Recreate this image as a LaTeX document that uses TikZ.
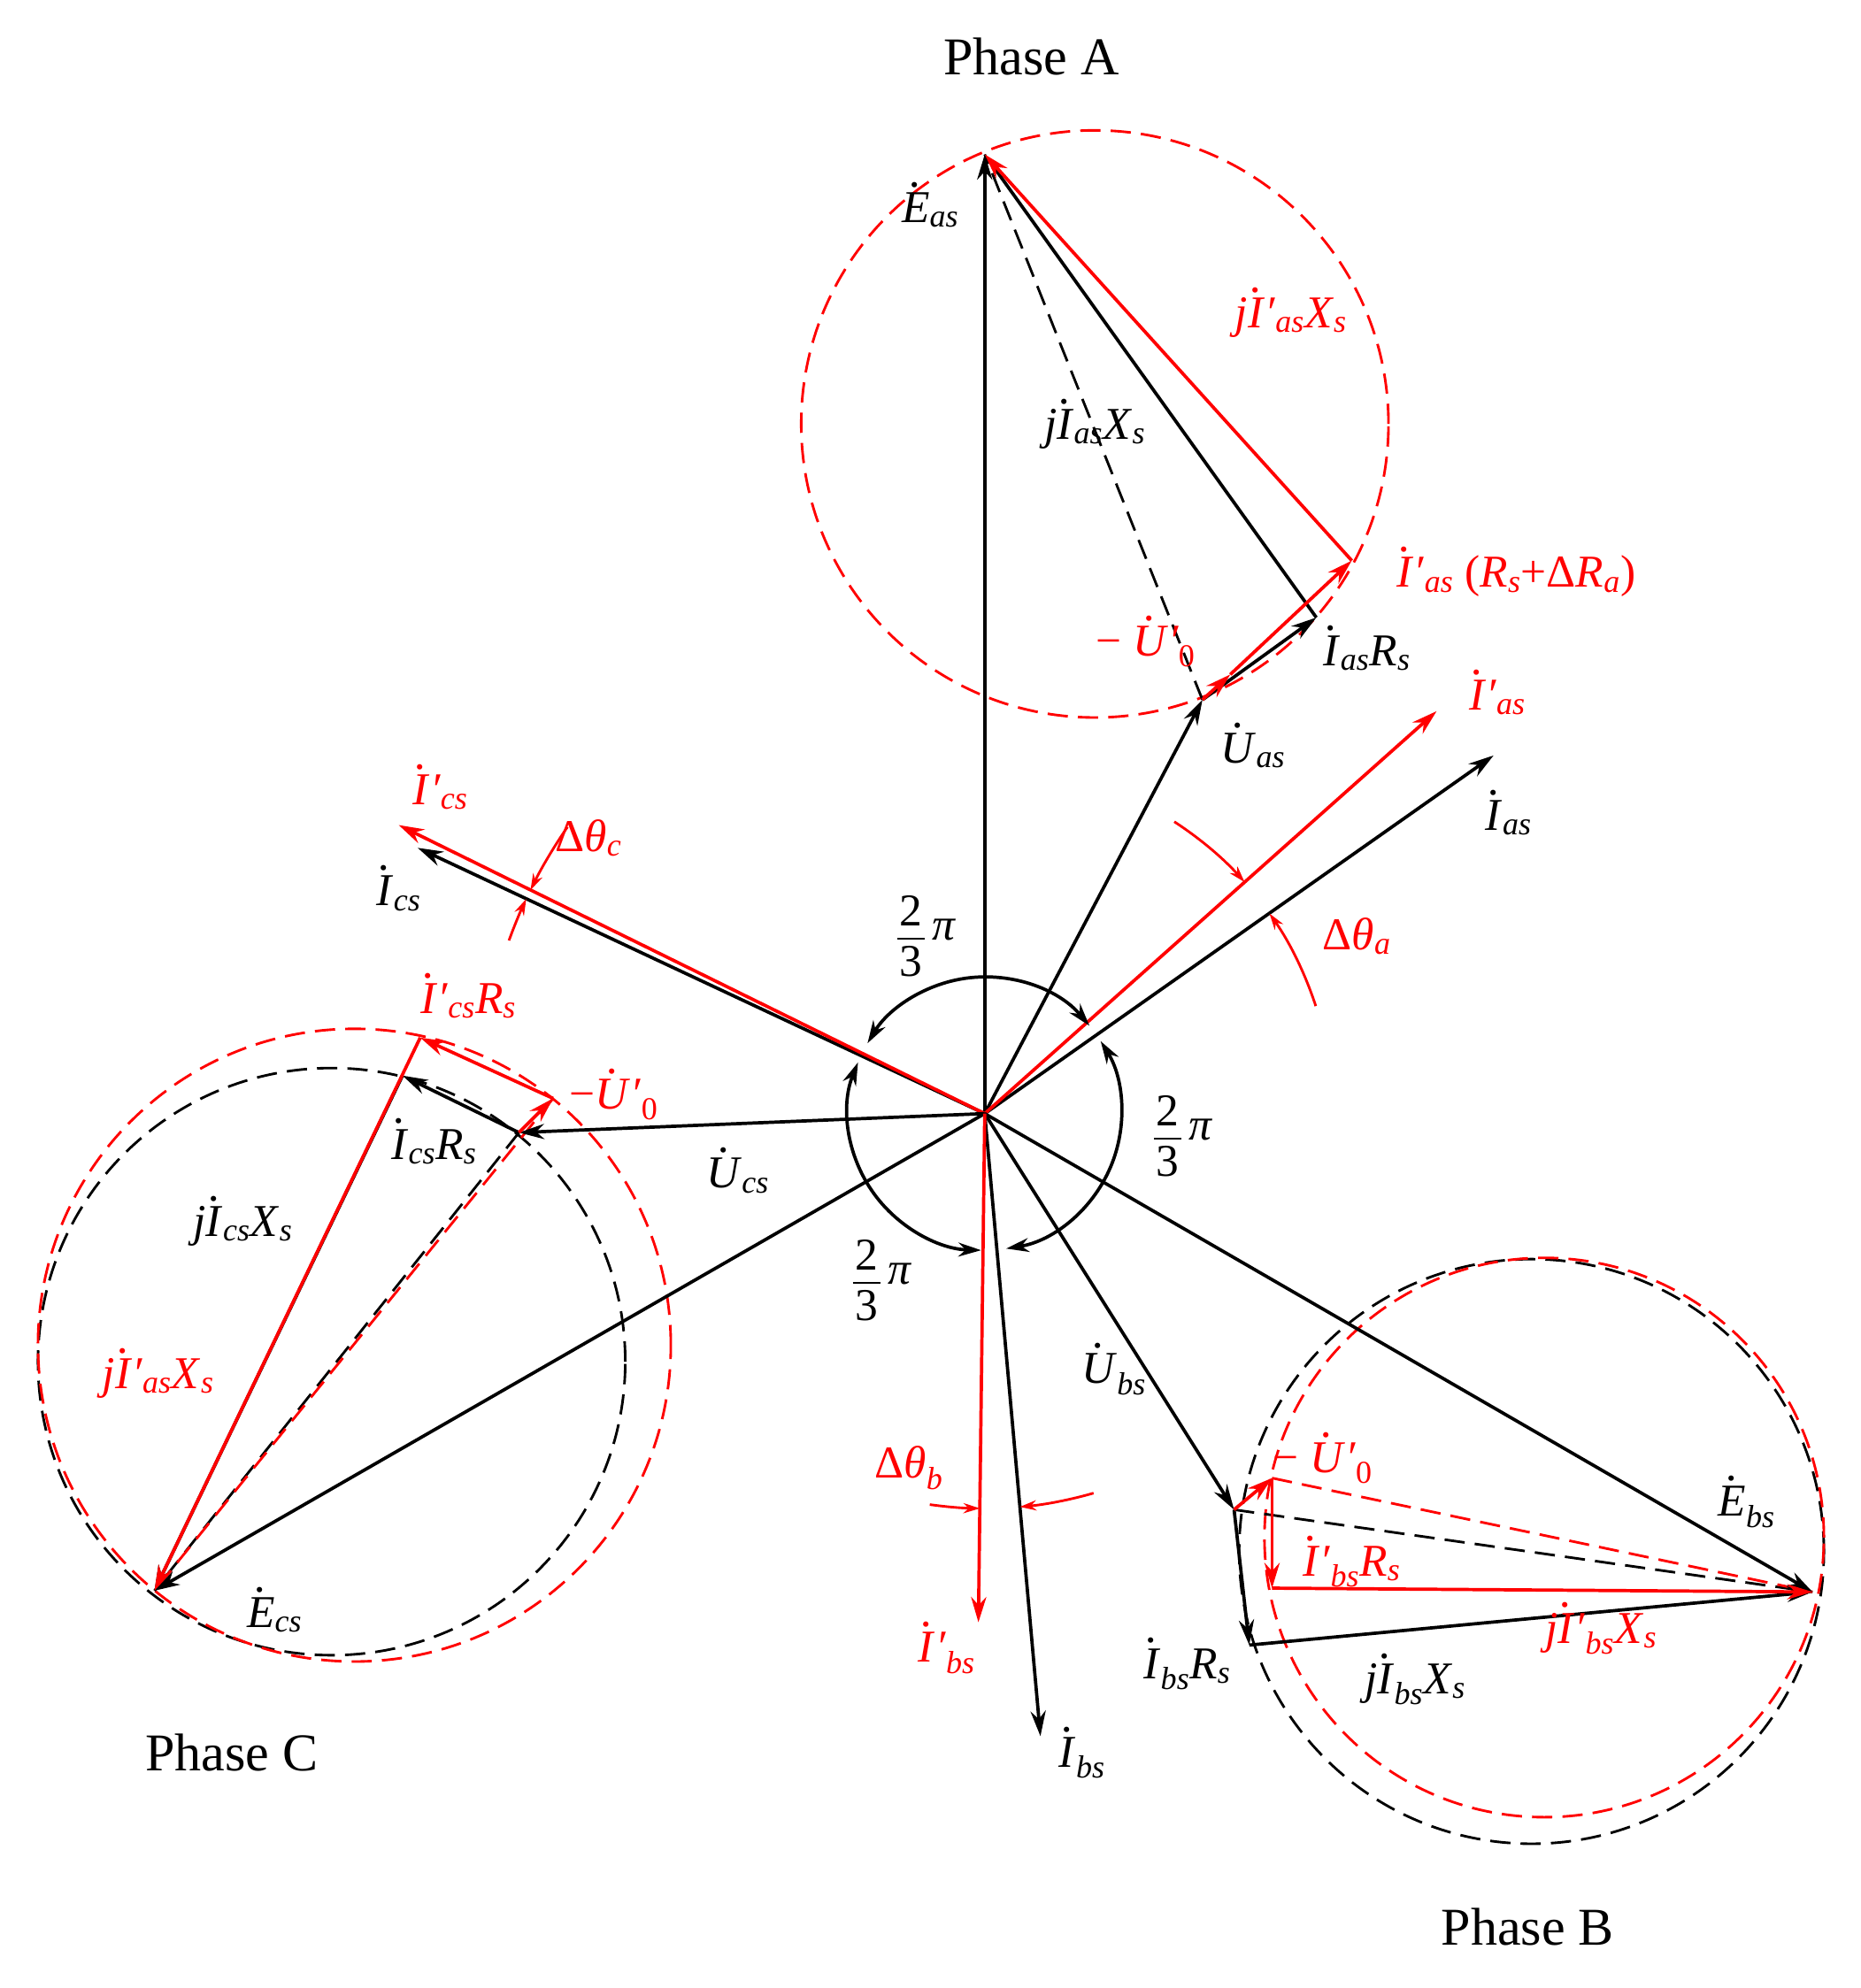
\documentclass[tikz,border=0pt]{standalone}
\usepackage{fontspec}
\setmainfont{Liberation Serif}
\usetikzlibrary{arrows.meta,calc}
\newcommand\ph[1]{{\setbox0\hbox{\textit{#1}}\rlap{\hbox to\wd0{\hss\raisebox{0.78em}{\textit{.}}\hss}}\box0}}
\newcommand\sbs[1]{\textsubscript{\textit{#1}}}
\newcommand\pr{\textit{′}}
\newcommand\twothirds{\raisebox{-0.45\totalheight}{\shortstack{2\\[6pt]\rule{0.6em}{1.8pt}\\[2pt]3}}\,\textit{π}}
\begin{document}
\begin{tikzpicture}[x=1pt,y=1pt,
 ln/.style={line width=2.6pt},
 ar/.style={ln,-{Stealth[length=20pt,width=12pt]}},
 blk/.style={black},
 rd/.style={red},
 dsh/.style={line width=2pt,dash pattern=on 16pt off 8pt},
 lab/.style={font=\fontsize{36}{40}\selectfont,inner sep=0pt},
 frac/.style={font=\fontsize{36}{38}\selectfont,inner sep=0pt}]
\useasboundingbox (0,0) rectangle (1470,-1571);
% key points
\coordinate (O) at (778,-880);
\coordinate (Eas) at (778,-122);
\coordinate (Uas) at (950,-553);
\coordinate (Ias) at (1180,-597);
\coordinate (Ipas) at (1135,-562);
\coordinate (IasR) at (1040,-488);
\coordinate (IpasR) at (1068,-443);
\coordinate (Uas0) at (972,-533);
\coordinate (Ics) at (330,-670);
\coordinate (Ipcs) at (315,-652);
\coordinate (Ucs) at (410,-895);
\coordinate (Ecs) at (122,-1257);
\coordinate (IcsR) at (318,-850);
\coordinate (Ucs0) at (437,-868);
\coordinate (IpcsR) at (332,-820);
\coordinate (Ubs) at (975,-1193);
\coordinate (Ebs) at (1432,-1258);
\coordinate (Ibs) at (822,-1372);
\coordinate (Ipbs) at (773,-1282);
\coordinate (IbsR) at (987,-1300);
\coordinate (Ubs0) at (1005,-1168);
\coordinate (IpbsR) at (1005,-1255);
% circles
\draw[rd,dsh] (865,-335) circle (232);
\draw[blk,dsh] (262,-1076) circle (232);
\draw[rd,dsh] (280,-1063) circle (250);
\draw[blk,dsh] (1210,-1226) circle (231);
\draw[rd,dsh] (1220,-1215) circle (221);
% dashed chords
\draw[blk,dsh] (Uas) -- (Eas);
\draw[blk,dsh] (Ucs) -- (Ecs);
\draw[rd,dsh] (Ucs0) -- (Ecs);
\draw[blk,dsh] (Ubs) -- (Ebs);
\draw[rd,dsh] (Ubs0) -- (Ebs);
% main phasors
\draw[ar] (O) -- (Eas);
\draw[ar] (O) -- (Uas);
\draw[ar] (O) -- (Ias);
\draw[ar,rd] (O) -- (Ipas);
\draw[ar] (O) -- (Ics);
\draw[ar,rd] (O) -- (Ipcs);
\draw[ar] (O) -- (Ucs);
\draw[ar] (O) -- (Ecs);
\draw[ar] (O) -- (Ubs);
\draw[ar] (O) -- (Ebs);
\draw[ar] (O) -- (Ibs);
\draw[ar,rd] (O) -- (Ipbs);
% phase A polygon
\draw[ar] (Uas) -- (IasR);
\draw[ln] (IasR) -- ($(Eas)!0.01!(IasR)$);
\draw[ar,rd] (Uas) -- (Uas0);
\draw[ar,rd] (Uas0) -- (IpasR);
\draw[ar,rd] (IpasR) -- (Eas);
% phase C polygon
\draw[ar] (Ucs) -- (IcsR);
\draw[ar] (IcsR) -- (Ecs);
\draw[ar,rd] (Ucs) -- (Ucs0);
\draw[ar,rd] (Ucs0) -- (IpcsR);
\draw[ar,rd] (IpcsR) -- (Ecs);
% phase B polygon
\draw[ar] (Ubs) -- (IbsR);
\draw[ar] (IbsR) -- (Ebs);
\draw[ar,rd] (Ubs) -- (Ubs0);
\draw[ar,rd] (Ubs0) -- (IpbsR);
\draw[ar,rd] (IpbsR) -- (Ebs);
% 2/3 pi arcs
\draw[ln,{Stealth[length=18pt,width=11pt]}-{Stealth[length=18pt,width=11pt]}] ($(O)+(40:108)$) arc (40:149:108);
\draw[ln,{Stealth[length=18pt,width=11pt]}-{Stealth[length=18pt,width=11pt]}] ($(O)+(-81:108)$) arc (-81:32:108);
\draw[ln,{Stealth[length=18pt,width=11pt]}-{Stealth[length=18pt,width=11pt]}] ($(O)+(158:108)$) arc (158:268.5:108);
% delta theta arcs
\tikzset{da/.style={rd,line width=2pt,-{Stealth[length=13pt,width=8pt]}}}
\draw[da] ($(O)+(57:275)$) arc (57:41.7:275);
\draw[da] ($(O)+(18:275)$) arc (18:35.1:275);
\draw[da] ($(O)+(145.5:400)$) arc (145.5:153.8:400);
\draw[da] ($(O)+(160:400)$) arc (160:154.9:400);
\draw[da] ($(O)+(-98:312)$) arc (-98:-90.7:312);
\draw[da] ($(O)+(-74:312)$) arc (-74:-84.9:312);
% labels
\node[lab,font=\fontsize{42}{46}\selectfont] (pA) at (815,-45) {Phase A};
\node[lab,font=\fontsize{42}{46}\selectfont] (pC) at (183,-1385) {Phase C};
\node[lab,font=\fontsize{42}{46}\selectfont] (pB) at (1207,-1523) {Phase B};
\node[lab] (lEas) at (735,-162) {\ph{E}\sbs{as}};
\node[lab] (lj1) at (865,-335) {\textit{j}\ph{I}\sbs{as}\textit{X}\sbs{s}};
\node[lab,rd] (lj2) at (1020,-247) {\textit{j}\ph{I}\pr\sbs{as}\textit{X}\sbs{s}};
\node[lab,rd] (lrr) at (1198,-452) {\ph{I}\pr\sbs{as} (\textit{R}\sbs{s}+Δ\textit{R}\sbs{a})};
\node[lab,rd] (lu0a) at (905,-507) {− \ph{U}\pr\textsubscript{0}};
\node[lab] (lIasR) at (1080,-512) {\ph{I}\sbs{as}\textit{R}\sbs{s}};
\node[lab] (lUas) at (990,-589) {\ph{U}\sbs{as}};
\node[lab,rd] (lIpas) at (1183,-547) {\ph{I}\pr\sbs{as}};
\node[lab] (lIas) at (1192,-642) {\ph{I}\sbs{as}};
\node[lab,rd] (lIpcs) at (348,-622) {\ph{I}\pr\sbs{cs}};
\node[lab] (lIcs) at (315,-702) {\ph{I}\sbs{cs}};
\node[lab,rd] (ldc) at (465,-662) {Δ\textit{θ}\sbs{c}};
\node[frac] (f1) at (732,-740) {\twothirds};
\node[lab,rd] (lIpcsR) at (370,-787) {\ph{I}\pr\sbs{cs}\textit{R}\sbs{s}};
\node[lab,rd] (lu0c) at (485,-865) {−\ph{U}\pr\textsubscript{0}};
\node[lab] (lIcsR) at (343,-902) {\ph{I}\sbs{cs}\textit{R}\sbs{s}};
\node[lab] (lUcs) at (583,-925) {\ph{U}\sbs{cs}};
\node[lab] (ljc) at (192,-965) {\textit{j}\ph{I}\sbs{cs}\textit{X}\sbs{s}};
\node[lab,rd] (ljpc) at (125,-1085) {\textit{j}\ph{I}\pr\sbs{as}\textit{X}\sbs{s}};
\node[lab] (lEcs) at (217,-1272) {\ph{E}\sbs{cs}};
\node[frac] (f2) at (935,-898) {\twothirds};
\node[frac] (f3) at (697,-1012) {\twothirds};
\node[lab,rd] (lda) at (1072,-740) {Δ\textit{θ}\sbs{a}};
\node[lab] (lUbs) at (880,-1082) {\ph{U}\sbs{bs}};
\node[lab,rd] (ldb) at (718,-1160) {Δ\textit{θ}\sbs{b}};
\node[lab,rd] (lu0b) at (1045,-1152) {− \ph{U}\pr\textsubscript{0}};
\node[lab] (lEbs) at (1380,-1187) {\ph{E}\sbs{bs}};
\node[lab,rd] (lIpbsR) at (1068,-1234) {\ph{I}\pr\sbs{bs}\textit{R}\sbs{s}};
\node[lab,rd] (ljpb) at (1265,-1287) {\textit{j}\ph{I}\pr\sbs{bs}\textit{X}\sbs{s}};
\node[lab] (lIbsR) at (938,-1315) {\ph{I}\sbs{bs}\textit{R}\sbs{s}};
\node[lab] (ljb) at (1118,-1327) {\textit{j}\ph{I}\sbs{bs}\textit{X}\sbs{s}};
\node[lab,rd] (lIpbs) at (748,-1302) {\ph{I}\pr\sbs{bs}};
\node[lab] (lIbs) at (855,-1385) {\ph{I}\sbs{bs}};
\end{tikzpicture}
\end{document}
